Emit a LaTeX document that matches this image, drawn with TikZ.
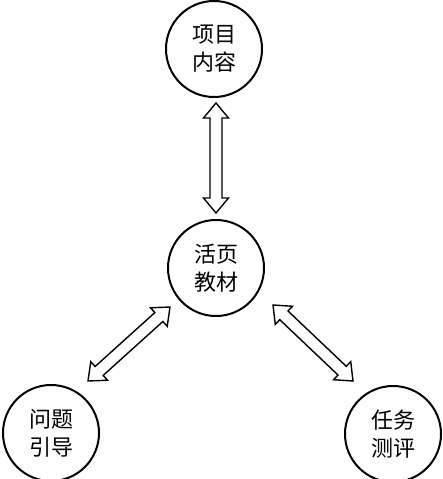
\documentclass[tikz,border=0pt]{standalone}
\usepackage{fontspec}
\setmainfont{Noto Sans CJK SC}
\usetikzlibrary{calc}
\tikzset{
  topic/.style={circle, draw, line width=2pt, minimum size=96pt, inner sep=0pt,
    align=center, font=\fontsize{22pt}{28pt}\selectfont},
  dblarr/.style={draw, line width=1.4pt, fill=white, line join=miter}
}
\newcommand{\dblconn}[2]{%
  \draw[dblarr] (#1)
    -- ($(#1)!15pt!(#2)!12.5pt!90:(#2)$)
    -- ($(#1)!15pt!(#2)!6pt!90:(#2)$)
    -- ($(#2)!15pt!(#1)!6pt!-90:(#1)$)
    -- ($(#2)!15pt!(#1)!12.5pt!-90:(#1)$)
    -- (#2)
    -- ($(#2)!15pt!(#1)!12.5pt!90:(#1)$)
    -- ($(#2)!15pt!(#1)!6pt!90:(#1)$)
    -- ($(#1)!15pt!(#2)!6pt!-90:(#2)$)
    -- ($(#1)!15pt!(#2)!12.5pt!-90:(#2)$)
    -- cycle;}
\begin{document}
\begin{tikzpicture}[x=1pt,y=-1pt]
\useasboundingbox (0,0) rectangle (443,479);
\node[topic] (top) at (214,49) {项目\\内容};
\node[topic] (mid) at (216,268) {活页\\教材};
\node[topic] (bl) at (51,433) {问题\\引导};
\node[topic] (br) at (393,434) {任务\\测评};
\coordinate (a1) at (216,103);
\coordinate (a2) at (216,213);
\coordinate (b1) at (88,381);
\coordinate (b2) at (170,307);
\coordinate (c1) at (273,305);
\coordinate (c2) at (353,381);
\dblconn{a1}{a2}
\dblconn{b1}{b2}
\dblconn{c1}{c2}
\end{tikzpicture}
\end{document}
